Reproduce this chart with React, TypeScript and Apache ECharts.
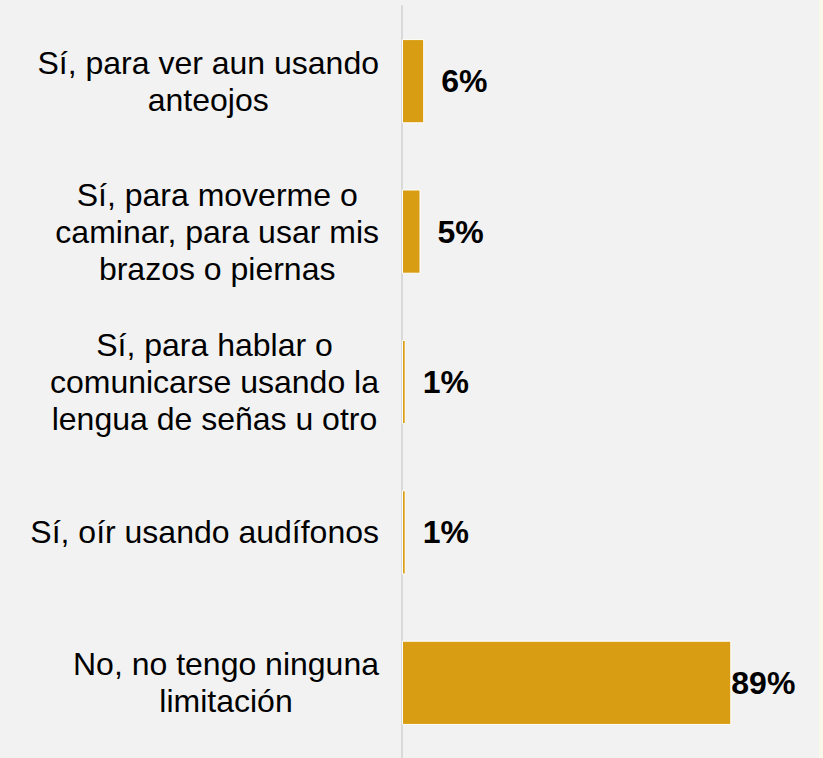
import React, { useEffect, useRef } from "react";
import * as echarts from "echarts";

const categories = [
  "Sí, para ver aun usando\nanteojos",
  "Sí, para moverme o\ncaminar, para usar mis\nbrazos o piernas",
  "Sí, para hablar o\ncomunicarse usando la\nlengua de señas u otro",
  "Sí, oír usando audífonos",
  "No, no tengo ninguna\nlimitación",
];
const values = [6, 5, 1, 1, 89];

const FONT = "'Liberation Sans', Arial, sans-serif";

export default function App() {
  const ref = useRef<HTMLDivElement>(null);
  useEffect(() => {
    if (!ref.current) return;
    const chart = echarts.init(ref.current, undefined, { renderer: "svg" });
    chart.setOption({
      animation: false,
      backgroundColor: "#f2f2f2",
      graphic: [
        {
          type: "rect",
          right: 0,
          top: 0,
          shape: { width: 4, height: 758 },
          style: { fill: "#f9f9ea" },
          silent: true,
        },
      ],
      grid: { left: 402, top: 6, width: 370, height: 754, containLabel: false },
      xAxis: {
        type: "value",
        min: 0,
        max: 100,
        show: false,
      },
      yAxis: {
        type: "category",
        inverse: true,
        data: categories,
        axisLine: { show: true, lineStyle: { color: "#d9d9d9", width: 2 } },
        axisTick: { show: false },
        splitLine: { show: false },
        axisLabel: {
          margin: 23,
          align: "right",
          formatter: (v: string) =>
            v
              .split("\n")
              .map((l) => `{c|${l}}`)
              .join("\n"),
          rich: {
            c: {
              align: "center",
              fontSize: 32,
              lineHeight: 37,
              fontFamily: FONT,
              color: "#000",
            },
          },
        },
      },
      series: [
        {
          type: "bar",
          barCategoryGap: "44%",
          data: values.map((v, i) =>
            i === values.length - 1
              ? { value: v, label: { distance: 0 } }
              : { value: v }
          ),
          itemStyle: { color: "#d99d13", borderColor: "#ffffff", borderWidth: 1 },
          label: {
            show: true,
            position: "right",
            distance: 17,
            formatter: "{c}%",
            fontSize: 32,
            fontWeight: "bold",
            fontFamily: FONT,
            color: "#000",
          },
        },
      ],
    });
    return () => chart.dispose();
  }, []);
  return (
    <div
      ref={ref}
      style={{ position: "absolute", left: 0, top: 0, width: 823, height: 758 }}
    />
  );
}
